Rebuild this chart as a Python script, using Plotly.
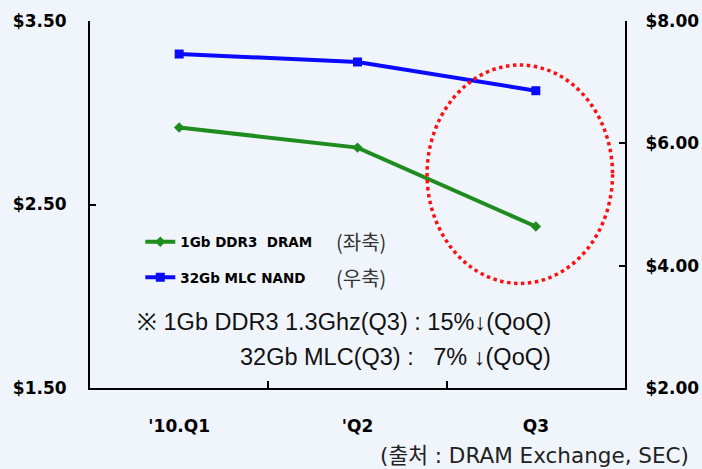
import plotly.graph_objects as go

quarters = ["'10.Q1", "'Q2", "Q3"]
dram_prices = [2.92, 2.81, 2.38]      # 1Gb DDR3 DRAM, left axis ($)
nand_prices = [7.46, 7.33, 6.86]      # 32Gb MLC NAND, right axis ($)
left_ticks = [1.5, 2.5, 3.5]
right_ticks = [2, 4, 6, 8]

BG = "#F0F5FC"
TICKFONT = dict(family="DejaVu Sans", size=17, color="black", weight="bold")

fig = go.Figure()
fig.add_trace(go.Scatter(
    x=quarters, y=dram_prices, name="<b>1Gb DDR3  DRAM</b>",
    mode="lines+markers", line=dict(color="#1E8C1E", width=4),
    marker=dict(symbol="diamond", size=8, color="#1E8C1E"),
    legendgroup="a", yaxis="y"))
fig.add_trace(go.Scatter(
    x=quarters, y=nand_prices, name="<b>32Gb MLC NAND</b>",
    mode="lines+markers", line=dict(color="#0A0AFF", width=4),
    marker=dict(symbol="square", size=9, color="#0A0AFF"),
    legendgroup="b", yaxis="y2"))

fig.update_layout(
    width=702, height=469,
    margin=dict(l=90, r=77, t=21, b=81, autoexpand=False),
    paper_bgcolor=BG, plot_bgcolor=BG,
    showlegend=True,
    legend=dict(x=0.094, y=0.44, xanchor="left", yanchor="top",
                bgcolor="rgba(0,0,0,0)", tracegroupgap=15,
                font=dict(family="DejaVu Sans", size=13.5, color="black")),
    xaxis=dict(type="category", range=[-0.5, 2.5], showline=True,
               linecolor="black", linewidth=2, ticks="inside",
               tickson="boundaries", ticklen=7, tickwidth=2,
               tickcolor="black", showgrid=False, zeroline=False,
               tickfont=TICKFONT, ticklabelstandoff=22),
    yaxis=dict(range=[1.5, 3.5], tickvals=left_ticks,
               tickformat="$.2f", showline=True, linecolor="black",
               linewidth=2, ticks="inside", ticklen=6, tickwidth=2,
               tickcolor="black", showgrid=False, zeroline=False,
               tickfont=TICKFONT, ticklabelstandoff=18),
    yaxis2=dict(range=[2, 8], tickvals=right_ticks,
                tickformat="$.2f", overlaying="y", side="right",
                showline=True, linecolor="black", linewidth=2,
                ticks="inside", ticklen=6, tickwidth=2, tickcolor="black",
                showgrid=False, zeroline=False, tickfont=TICKFONT,
                ticklabelstandoff=15),
)

# red dotted highlight circle around Q3
fig.add_shape(type="circle", xref="x", yref="y",
              x0=1.39, x1=2.43, y0=2.07, y1=3.26,
              line=dict(color="#FF1010", width=3.5, dash="dot"))

KFONT = dict(family="Noto Sans CJK KR", size=20, color="#333333")
fig.add_annotation(x=0.457, y=0.40, xref="paper", yref="paper",
                   text="(좌축)", showarrow=False, xanchor="left",
                   yanchor="middle", font=KFONT)
fig.add_annotation(x=0.457, y=0.30, xref="paper", yref="paper",
                   text="(우축)", showarrow=False, xanchor="left",
                   yanchor="middle", font=KFONT)

NFONT = dict(family="Liberation Sans", size=23.5, color="#111111")
fig.add_annotation(x=0.865, y=0.18, xref="paper", yref="paper",
                   text="※ 1Gb DDR3 1.3Ghz(Q3) : 15%↓(QoQ)", showarrow=False,
                   xanchor="right", yanchor="middle", font=NFONT)
fig.add_annotation(x=0.865, y=0.085, xref="paper", yref="paper",
                   text="32Gb MLC(Q3) :   7% ↓(QoQ)", showarrow=False,
                   xanchor="right", yanchor="middle", font=NFONT)

fig.add_annotation(x=1.124, y=-0.185, xref="paper", yref="paper",
                   text="(출처 : DRAM Exchange, SEC)", showarrow=False,
                   xanchor="right", yanchor="middle",
                   font=dict(family="DejaVu Sans, Noto Sans CJK KR", size=21.5,
                             color="#222222"))

fig.write_html("out.html", config={"displayModeBar": False},
               post_script="document.body.style.margin='0';"
                           "document.body.style.background='" + BG + "';")
